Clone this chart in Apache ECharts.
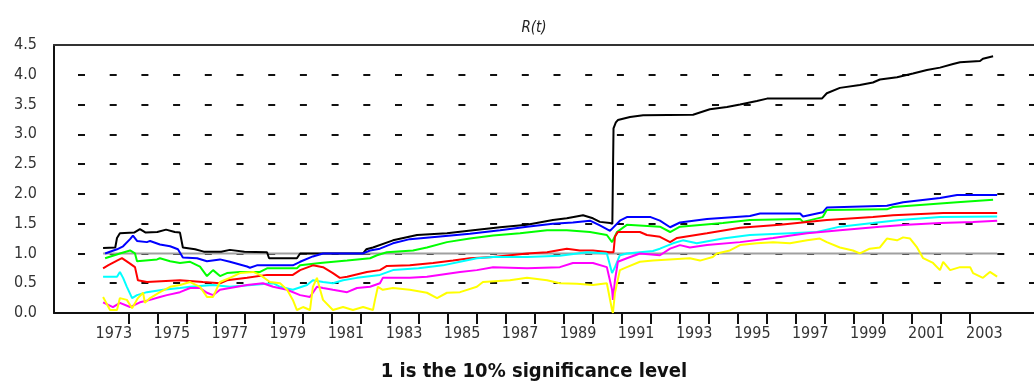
<!DOCTYPE html>
<html>
<head>
<meta charset="utf-8">
<script src="https://cdn.jsdelivr.net/npm/echarts@6/dist/echarts.min.js"></script>
<style>
  html, body { margin: 0; padding: 0; background: #fff; }
  #chart { width: 1034px; height: 383px; }
</style>
</head>
<body>
<div id="chart"></div>
<script>
// tick marks sit between the years, labels in the middle of each year
const tickYears = [1974, 1975, 1976, 1977, 1978, 1979, 1980, 1981, 1982, 1983, 1984, 1985, 1986, 1987, 1988,
    1989, 1990, 1991, 1992, 1993, 1994, 1995, 1996, 1997, 1998, 1999, 2000, 2001, 2002, 2003];
const yearLabels = [1973, 1975, 1977, 1979, 1981, 1983, 1985, 1987, 1989, 1991, 1993, 1995, 1997, 1999, 2001, 2003];

// [year, R(t)]
const blackData = [[1973.13,1.09],[1973.55,1.1],[1973.61,1.26],[1973.71,1.34],[1974.2,1.35],[1974.4,1.41],[1974.6,1.35],
    [1975.0,1.36],[1975.3,1.4],[1975.6,1.36],[1975.78,1.35],[1975.88,1.1],[1976.3,1.07],[1976.6,1.03],[1977.2,1.03],
    [1977.5,1.06],[1978.0,1.03],[1978.78,1.02],[1978.85,0.92],[1979.81,0.92],[1979.92,1.0],[1982.09,1.0],[1982.2,1.07],
    [1982.43,1.1],[1983.12,1.22],[1983.95,1.31],[1984.98,1.34],[1985.88,1.39],[1986.81,1.44],[1987.74,1.48],
    [1988.63,1.56],[1989.11,1.59],[1989.67,1.64],[1990.01,1.59],[1990.25,1.53],[1990.6,1.51],[1990.68,1.5],
    [1990.72,3.1],[1990.8,3.2],[1990.87,3.24],[1991.29,3.29],[1991.74,3.32],[1993.46,3.33],[1994.04,3.42],
    [1994.63,3.46],[1995.08,3.5],[1995.66,3.56],[1996.01,3.6],[1997.9,3.6],[1998.07,3.69],[1998.52,3.78],
    [1999.21,3.83],[1999.66,3.87],[1999.9,3.92],[2000.49,3.96],[2001.04,4.02],[2001.52,4.08],[2001.97,4.12],
    [2002.42,4.18],[2002.66,4.21],[2003.35,4.23],[2003.45,4.27],[2003.8,4.31]];

const blueData = [[1973.2,1.0],[1973.61,1.07],[1973.82,1.12],[1974.06,1.24],[1974.16,1.3],[1974.3,1.21],[1974.64,1.19],
    [1974.75,1.21],[1975.09,1.15],[1975.44,1.12],[1975.71,1.07],[1975.88,0.93],[1976.37,0.92],[1976.71,0.87],
    [1977.16,0.9],[1977.5,0.86],[1978.09,0.78],[1978.19,0.76],[1978.43,0.8],[1979.67,0.8],[1979.92,0.86],
    [1980.36,0.95],[1980.71,1.0],[1982.09,1.0],[1982.33,1.05],[1982.67,1.08],[1983.12,1.17],[1983.7,1.24],
    [1984.84,1.29],[1985.77,1.33],[1986.81,1.39],[1987.74,1.45],[1988.63,1.5],[1989.32,1.52],[1989.91,1.55],
    [1990.25,1.47],[1990.6,1.38],[1990.7,1.43],[1990.94,1.55],[1991.18,1.61],[1992.0,1.61],[1992.32,1.55],
    [1992.67,1.44],[1993.01,1.52],[1993.94,1.58],[1995.42,1.63],[1995.77,1.67],[1997.15,1.67],[1997.25,1.62],
    [1997.93,1.69],[1998.07,1.77],[2000.14,1.8],[2000.7,1.86],[2001.97,1.93],[2002.56,1.98],[2003.94,1.98]];

const greenData = [[1973.2,0.92],[1973.71,1.0],[1974.06,1.05],[1974.23,1.0],[1974.3,0.87],[1974.99,0.9],[1975.09,0.92],
    [1975.44,0.87],[1975.78,0.84],[1976.13,0.86],[1976.47,0.78],[1976.71,0.62],[1976.92,0.72],[1977.16,0.62],
    [1977.4,0.67],[1977.85,0.69],[1978.54,0.69],[1978.78,0.75],[1979.81,0.75],[1979.92,0.8],[1980.61,0.84],
    [1981.54,0.88],[1982.33,0.92],[1982.57,0.97],[1982.91,1.02],[1983.81,1.05],[1984.29,1.1],[1984.98,1.19],
    [1985.77,1.25],[1986.57,1.3],[1987.5,1.34],[1988.43,1.39],[1989.11,1.39],[1989.91,1.36],[1990.49,1.31],
    [1990.67,1.19],[1990.84,1.36],[1991.18,1.48],[1992.32,1.45],[1992.67,1.36],[1993.01,1.45],[1994.49,1.51],
    [1995.42,1.56],[1997.15,1.58],[1997.25,1.53],[1997.93,1.61],[1998.07,1.73],[2000.14,1.74],[2000.35,1.78],
    [2002.56,1.86],[2003.8,1.9]];

const redData = [[1973.13,0.75],[1973.3,0.8],[1973.61,0.88],[1973.78,0.92],[1974.06,0.83],[1974.23,0.77],[1974.33,0.55],
    [1974.64,0.52],[1975.78,0.55],[1976.57,0.52],[1977.16,0.5],[1977.4,0.55],[1978.09,0.59],[1978.78,0.64],
    [1979.67,0.64],[1979.92,0.72],[1980.36,0.8],[1980.71,0.77],[1981.05,0.67],[1981.29,0.59],[1981.54,0.61],
    [1982.22,0.69],[1982.67,0.72],[1982.91,0.79],[1983.7,0.8],[1984.5,0.84],[1985.19,0.88],[1985.77,0.92],
    [1986.57,0.94],[1987.74,1.0],[1988.43,1.02],[1989.11,1.08],[1989.56,1.05],[1990.01,1.05],[1990.6,1.02],
    [1990.72,1.02],[1990.77,1.28],[1990.87,1.36],[1991.63,1.36],[1991.87,1.31],[1992.32,1.28],[1992.67,1.19],
    [1992.91,1.26],[1993.94,1.34],[1995.08,1.43],[1996.46,1.48],[1998.07,1.56],[1999.66,1.61],[2000.35,1.64],
    [2002.08,1.68],[2003.94,1.68]];

const cyanData = [[1973.13,0.61],[1973.61,0.61],[1973.71,0.69],[1973.82,0.59],[1973.95,0.44],[1974.13,0.25],[1974.3,0.3],
    [1974.64,0.35],[1975.2,0.39],[1975.78,0.42],[1976.13,0.44],[1976.92,0.47],[1977.5,0.44],[1978.99,0.5],
    [1979.23,0.44],[1979.67,0.39],[1980.16,0.47],[1980.36,0.55],[1980.71,0.52],[1981.05,0.5],[1981.4,0.55],
    [1981.88,0.59],[1982.67,0.64],[1983.12,0.72],[1984.0,0.75],[1984.84,0.8],[1985.43,0.86],[1986.01,0.92],
    [1986.57,0.94],[1987.74,0.94],[1988.87,0.96],[1989.81,1.02],[1990.49,1.0],[1990.67,0.67],[1990.77,0.77],
    [1990.94,0.97],[1991.18,1.0],[1992.08,1.04],[1992.32,1.08],[1992.77,1.17],[1993.11,1.22],[1993.59,1.17],
    [1994.49,1.25],[1995.42,1.31],[1996.8,1.34],[1997.73,1.36],[1998.52,1.45],[1999.66,1.51],[2000.59,1.56],
    [2001.97,1.61],[2003.94,1.62]];

const magentaData = [[1973.13,0.18],[1973.47,0.1],[1973.71,0.17],[1974.06,0.1],[1974.4,0.18],[1974.75,0.22],[1975.09,0.27],
    [1975.33,0.3],[1975.78,0.35],[1976.13,0.42],[1976.47,0.42],[1976.71,0.34],[1976.92,0.3],[1977.16,0.39],
    [1977.5,0.42],[1978.09,0.47],[1978.64,0.5],[1978.99,0.44],[1979.47,0.39],[1979.92,0.3],[1980.26,0.27],
    [1980.5,0.44],[1980.71,0.42],[1981.05,0.39],[1981.54,0.35],[1981.88,0.42],[1982.33,0.44],[1982.67,0.5],
    [1982.77,0.59],[1983.7,0.59],[1984.29,0.61],[1985.43,0.69],[1986.01,0.72],[1986.57,0.77],[1987.74,0.75],
    [1988.87,0.77],[1989.32,0.84],[1990.01,0.84],[1990.49,0.77],[1990.67,0.39],[1990.7,0.22],[1990.77,0.55],
    [1990.87,0.86],[1991.18,0.92],[1991.63,1.0],[1992.32,0.97],[1992.67,1.08],[1993.01,1.14],[1993.35,1.1],
    [1993.94,1.14],[1995.08,1.19],[1996.22,1.26],[1997.39,1.34],[1998.52,1.39],[1999.9,1.45],[2000.83,1.48],
    [2001.97,1.51],[2003.11,1.53],[2003.94,1.55]];

const yellowData = [[1973.13,0.27],[1973.37,0.05],[1973.61,0.05],[1973.71,0.25],[1973.95,0.22],[1974.13,0.08],[1974.33,0.25],
    [1974.51,0.34],[1974.57,0.17],[1974.75,0.25],[1975.09,0.35],[1975.44,0.44],[1975.78,0.47],[1976.13,0.52],
    [1976.47,0.44],[1976.71,0.27],[1976.92,0.27],[1977.06,0.42],[1977.16,0.52],[1977.5,0.59],[1977.85,0.67],
    [1978.3,0.69],[1978.54,0.64],[1978.88,0.52],[1979.23,0.5],[1979.47,0.39],[1979.67,0.22],[1979.81,0.05],
    [1980.02,0.1],[1980.26,0.05],[1980.36,0.44],[1980.5,0.59],[1980.61,0.39],[1980.71,0.22],[1981.05,0.05],
    [1981.4,0.1],[1981.74,0.05],[1982.09,0.1],[1982.43,0.05],[1982.5,0.22],[1982.6,0.44],[1982.77,0.39],
    [1983.12,0.42],[1983.7,0.39],[1984.29,0.34],[1984.64,0.25],[1984.98,0.34],[1985.43,0.35],[1986.01,0.44],
    [1986.22,0.52],[1987.15,0.55],[1987.74,0.59],[1988.43,0.55],[1988.87,0.5],[1989.46,0.49],[1990.01,0.47],
    [1990.49,0.5],[1990.67,0.05],[1990.7,0.0],[1990.77,0.34],[1990.94,0.72],[1991.18,0.77],[1991.63,0.86],
    [1992.08,0.88],[1993.35,0.92],[1993.7,0.88],[1994.14,0.94],[1994.28,1.0],[1994.73,1.05],[1995.08,1.14],
    [1995.66,1.17],[1996.22,1.19],[1996.8,1.17],[1997.39,1.22],[1997.83,1.25],[1998.07,1.19],[1998.52,1.1],
    [1998.97,1.05],[1999.21,1.0],[1999.55,1.08],[1999.9,1.1],[2000.14,1.25],[2000.49,1.22],[2000.7,1.27],
    [2000.94,1.25],[2001.18,1.1],[2001.39,0.92],[2001.73,0.84],[2001.97,0.72],[2002.08,0.86],[2002.32,0.72],
    [2002.66,0.77],[2003.01,0.77],[2003.11,0.67],[2003.45,0.59],[2003.69,0.69],[2003.94,0.61]];

// 10% significance level
const levelData = [[1973.13,1],[2003.94,1]];

const labelFont = "'DejaVu Sans Condensed', 'Liberation Sans Narrow', 'DejaVu Sans', sans-serif";

function line(name, color, data) {
    return {
        name: name,
        type: 'line',
        xAxisIndex: 0,
        data: data,
        symbol: 'none',
        silent: true,
        lineStyle: { color: color, width: 2 }
    };
}

const option = {
    animation: false,
    title: [
        {
            text: 'R(t)',
            left: 529,
            top: 16,
            textAlign: 'center',
            textStyle: { fontFamily: labelFont, fontSize: 15, fontStyle: 'italic', fontWeight: 'normal', color: '#222' }
        },
        {
            text: '1 is the 10% significance level',
            left: 529,
            top: 357,
            textAlign: 'center',
            textStyle: { fontFamily: labelFont, fontSize: 20, fontWeight: 'bold', color: '#111' }
        }
    ],
    grid: {
        left: 54,
        right: 0,
        top: 45,
        bottom: 70
    },
    xAxis: [
        {
            type: 'value',
            position: 'bottom',
            min: 1971.439,
            max: 2005.21,
            axisLine: { lineStyle: { color: '#111', width: 2 } },
            axisTick: {
                show: true,
                customValues: tickYears,
                length: 11,
                lineStyle: { color: '#111', width: 2 }
            },
            axisLabel: {
                customValues: yearLabels.map(y => y + 0.5),
                formatter: v => String(Math.floor(v)),
                margin: 13,
                fontFamily: labelFont,
                fontSize: 16,
                color: '#333'
            },
            splitLine: { show: false }
        },
        {
            // top frame line only
            type: 'value',
            position: 'top',
            min: 1971.439,
            max: 2005.21,
            axisLine: { show: true, onZero: false, lineStyle: { color: '#333', width: 2 } },
            axisTick: { show: false },
            axisLabel: { show: false },
            splitLine: { show: false }
        }
    ],
    yAxis: {
        type: 'value',
        min: 0,
        max: 4.5,
        interval: 0.5,
        axisLine: { show: true, lineStyle: { color: '#111', width: 2 } },
        axisTick: { show: false },
        axisLabel: {
            formatter: v => v.toFixed(1),
            margin: 17,
            fontFamily: labelFont,
            fontSize: 16,
            color: '#333'
        },
        splitLine: {
            show: true,
            lineStyle: { color: '#111', width: 2, type: [7, 24.7], dashOffset: 7.7 }
        }
    },
    series: [
        line('level', '#a0a0a0', levelData),
        line('black', '#000000', blackData),
        line('blue', '#0000ff', blueData),
        line('green', '#00ff00', greenData),
        line('red', '#ff0000', redData),
        line('cyan', '#00ffff', cyanData),
        line('magenta', '#ff00ff', magentaData),
        line('yellow', '#ffff00', yellowData)
    ]
};

const chartDom = document.getElementById('chart');
const myChart = echarts.init(chartDom);
myChart.setOption(option);
window.addEventListener('resize', () => myChart.resize());
</script>
</body>
</html>
